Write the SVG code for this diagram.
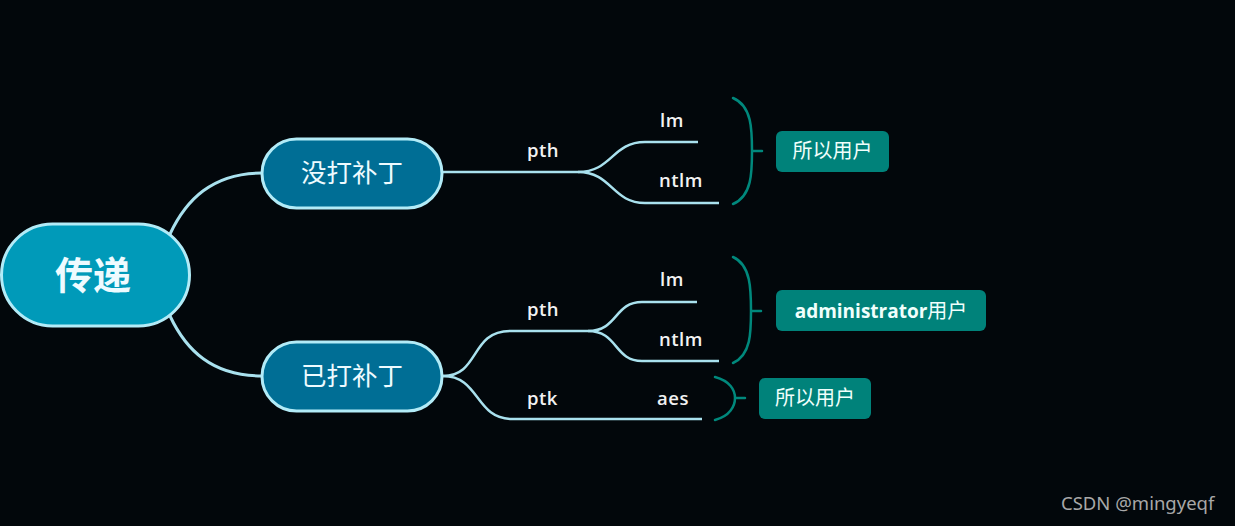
<svg xmlns="http://www.w3.org/2000/svg" width="1235" height="526" viewBox="0 0 1235 526">
<style>
.bg{fill:#02070b}
.conn{fill:none;stroke:#a9e1ee;stroke-width:3;stroke-linecap:round}
.sub{fill:none;stroke:#a9e1ee;stroke-width:2.5}
.brace{fill:none;stroke:#00887c;stroke-width:2.5;stroke-linecap:round}
.node{stroke:#b2ebf7;stroke-width:3}
.cn{font-family:"Noto Sans CJK SC","Noto Sans",sans-serif;fill:#eefbff;text-anchor:middle}
.lbl{font-family:"Open Sans","Noto Sans",sans-serif;font-size:18.5px;fill:#f2f2f2;font-weight:600;letter-spacing:0.5px}
.box{fill:#00827a}
.bt{font-family:"Noto Sans CJK SC","Noto Sans",sans-serif;font-size:20px;fill:#f0fffc}
.wm{font-family:"Noto Sans","DejaVu Sans",sans-serif;font-size:18.5px;fill:#a8a8a8}
</style>
<rect class="bg" x="0" y="0" width="1235" height="526"/>
<g id="connectors">
<path class="conn" d="M170,234 C186,200 212,173 262,173"/>
<path class="conn" d="M170,316 C186,350 212,376 262,376"/>
<path class="sub" d="M443,172 H578 C612,172 612,142 645,142 H698"/>
<path class="sub" d="M578,172 C612,172 612,203 645,203 H719"/>
<path class="sub" d="M443,376 C480,376 470,331 510,331 H588 C618,331 614,302 642,302 H697"/>
<path class="sub" d="M588,331 C618,331 614,361 642,361 H719"/>
<path class="sub" d="M443,376 C480,376 475,419 512,419 H702"/>
</g>
<g id="labels">
<text class="lbl" x="527" y="157">pth</text>
<text class="lbl" x="660" y="127">lm</text>
<text class="lbl" x="659" y="187">ntlm</text>
<text class="lbl" x="527" y="316">pth</text>
<text class="lbl" x="660" y="286">lm</text>
<text class="lbl" x="659" y="346">ntlm</text>
<text class="lbl" x="527" y="405">ptk</text>
<text class="lbl" x="657" y="405">aes</text>
</g>
<g id="root">
<rect class="node" x="1.5" y="224" width="188" height="102" rx="51" fill="#009ab9"/>
<text class="cn" x="93" y="289" font-size="38" font-weight="bold">传递</text>
</g>
<g id="node-unpatched">
<rect class="node" x="262" y="139" width="180" height="69" rx="34.5" fill="#006e95"/>
<text class="cn" x="352" y="182" font-size="25.5">没打补丁</text>
</g>
<g id="node-patched">
<rect class="node" x="262" y="342" width="180" height="69" rx="34.5" fill="#006e95"/>
<text class="cn" x="352" y="385" font-size="25.5">已打补丁</text>
</g>
<g id="summary-1">
<path class="brace" d="M733,98 C752,106 752,130 752,151 C752,172 752,196 733,204 M752,151 H762"/>
<rect class="box" x="776" y="131" width="113" height="41" rx="6"/>
<text class="bt" x="832.5" y="158" text-anchor="middle">所以用户</text>
</g>
<g id="summary-2">
<path class="brace" d="M733,257 C751,265 751,290 751,311 C751,332 751,355 733,363 M751,311 H761"/>
<rect class="box" x="776" y="290" width="210" height="41" rx="6"/>
<text class="bt" x="881" y="318" text-anchor="middle"><tspan font-family="'Open Sans','Noto Sans',sans-serif" font-weight="bold" font-size="19">administrator</tspan>用户</text>
</g>
<g id="summary-3">
<path class="brace" d="M715,377 C730,381 735,390 735,398 C735,406 730,416 715,420 M735,398 H745"/>
<rect class="box" x="759" y="378" width="112" height="41" rx="6"/>
<text class="bt" x="815" y="405" text-anchor="middle">所以用户</text>
</g>
<text class="wm" x="1061" y="510">CSDN @mingyeqf</text>
</svg>
